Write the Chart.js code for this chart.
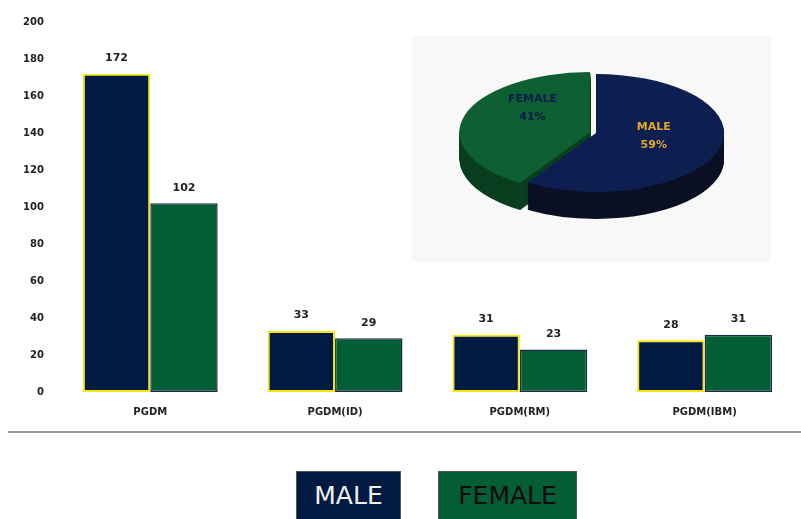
<!DOCTYPE html>
<html><head><meta charset="utf-8">
<script src="https://cdn.jsdelivr.net/npm/chart.js@4.4.1/dist/chart.umd.min.js"></script>
<style>
html,body{margin:0;padding:0;background:#fff;width:801px;height:519px;overflow:hidden;font-family:"DejaVu Sans",Verdana,sans-serif;}
#barWrap{position:absolute;left:0;top:0;width:801px;height:432px;}
#inset{position:absolute;left:412px;top:36px;width:359px;height:226px;background:#f8f8f8;}
#pieWrap{position:absolute;left:0;top:-53px;width:359px;height:300px;}
#rule{position:absolute;left:8px;top:431px;width:793px;height:2px;background:#9a9a9a;}
.leg{position:absolute;top:471px;height:52px;box-sizing:border-box;border:1px solid #555;font-size:25px;line-height:48px;text-align:center;}
</style></head>
<body>
<div id="barWrap"><canvas id="bar"></canvas></div>
<div id="inset"><div id="pieWrap"><canvas id="pie"></canvas></div></div>
<div id="rule"></div>
<div class="leg" style="left:296px;width:105px;background:#011a41;color:#f2f2f2;">MALE</div>
<div class="leg" style="left:438px;width:139px;background:#035e35;color:#0a0a0a;">FEMALE</div>
<script>
const categories = ["PGDM", "PGDM(ID)", "PGDM(RM)", "PGDM(IBM)"];
const maleValues = [172, 33, 31, 28];
const femaleValues = [102, 29, 23, 31];
const pieLabels = ["MALE", "FEMALE"];
const pieValues = [59, 41];

const valueLabels = {
  id: 'valueLabels',
  afterDatasetsDraw(chart) {
    const ctx = chart.ctx;
    ctx.save();
    ctx.font = 'bold 11px "DejaVu Sans"';
    ctx.fillStyle = '#222';
    ctx.textAlign = 'center';
    ctx.textBaseline = 'bottom';
    chart.data.datasets.forEach((ds, di) => {
      chart.getDatasetMeta(di).data.forEach((bar, i) => {
        ctx.fillText(String(ds.data[i]), bar.x, bar.y - 10);
      });
    });
    ctx.restore();
  }
};

new Chart(document.getElementById('bar'), {
  type: 'bar',
  data: {
    labels: categories,
    datasets: [
      { label: 'MALE', data: maleValues, backgroundColor: '#011a41', borderColor: '#f5e90a', borderWidth: 2, borderSkipped: false },
      { label: 'FEMALE', data: femaleValues, backgroundColor: '#035e35', borderColor: '#1d2b4a', borderWidth: 1.5, borderSkipped: false }
    ]
  },
  options: {
    responsive: true, maintainAspectRatio: false, animation: false,
    layout: { padding: { top: 22, left: 9, right: 4 } },
    categoryPercentage: 0.73, barPercentage: 1.0,
    plugins: { legend: { display: false }, tooltip: { enabled: false } },
    scales: {
      x: { grid: { display: false, drawTicks: false }, border: { display: false },
           ticks: { color: '#222', font: { family: 'DejaVu Sans', size: 10, weight: 'bold' }, padding: 14 } },
      y: { min: 0, max: 200, grid: { display: false, drawTicks: false }, border: { display: false },
           ticks: { stepSize: 20, color: '#222', font: { family: 'DejaVu Sans', size: 10, weight: 'bold' }, padding: 14 } }
    }
  },
  plugins: [valueLabels]
});

const K = 0.46, DEPTH = 27;
const sideColors = ['#0b1024', '#0a3f20'];
const labelColors = ['#e3a826', '#0b1d4d'];
const labelShiftY = [-5, -16];
const pie3d = {
  id: 'pie3d',
  beforeDatasetsDraw(chart) {
    const meta = chart.getDatasetMeta(0);
    const ctx = chart.ctx;
    const cx = meta.data[0].x, cy = meta.data[0].y;
    for (let d = DEPTH; d >= 1; d--) {
      ctx.save();
      ctx.translate(cx, cy + d); ctx.scale(1, K); ctx.translate(-cx, -cy);
      meta.data.forEach((arc, i) => {
        const off = (arc.options.offset || 0) / 4;
        const mid = (arc.startAngle + arc.endAngle) / 2;
        const circ = arc.endAngle - arc.startAngle;
        const fix = 1 - Math.sin(Math.min(Math.PI, circ));
        const ox = arc.x + Math.cos(mid) * off, oy = arc.y + Math.sin(mid) * off;
        ctx.beginPath();
        ctx.moveTo(ox, oy);
        ctx.arc(ox, oy, arc.outerRadius + off * fix, arc.startAngle, arc.endAngle);
        ctx.closePath();
        ctx.fillStyle = sideColors[i];
        ctx.fill();
      });
      ctx.restore();
    }
    ctx.save();
    ctx.translate(cx, cy); ctx.scale(1, K); ctx.translate(-cx, -cy);
  },
  afterDatasetsDraw(chart) {
    chart.ctx.restore();
    const meta = chart.getDatasetMeta(0);
    const ctx = chart.ctx;
    ctx.save();
    ctx.font = 'bold 11px "DejaVu Sans"';
    ctx.textAlign = 'center';
    ctx.textBaseline = 'middle';
    meta.data.forEach((arc, i) => {
      const mid = (arc.startAngle + arc.endAngle) / 2;
      const r = arc.outerRadius * 0.47 + (arc.options.offset || 0) / 4;
      const x = arc.x + Math.cos(mid) * r;
      const y = arc.y + Math.sin(mid) * r * K + labelShiftY[i];
      ctx.fillStyle = labelColors[i];
      ctx.fillText(pieLabels[i], x, y - 9);
      ctx.fillText(pieValues[i] + '%', x, y + 9);
    });
    ctx.restore();
  }
};

new Chart(document.getElementById('pie'), {
  type: 'pie',
  data: {
    labels: pieLabels,
    datasets: [{ data: pieValues, backgroundColor: ['#0c1f50', '#0e5f31'], borderWidth: 0, offset: [0, 24], radius: 128 }]
  },
  options: {
    responsive: true, maintainAspectRatio: false, animation: false,
    layout: { padding: { left: 9 } },
    plugins: { legend: { display: false }, tooltip: { enabled: false } }
  },
  plugins: [pie3d]
});
</script>
</body></html>
